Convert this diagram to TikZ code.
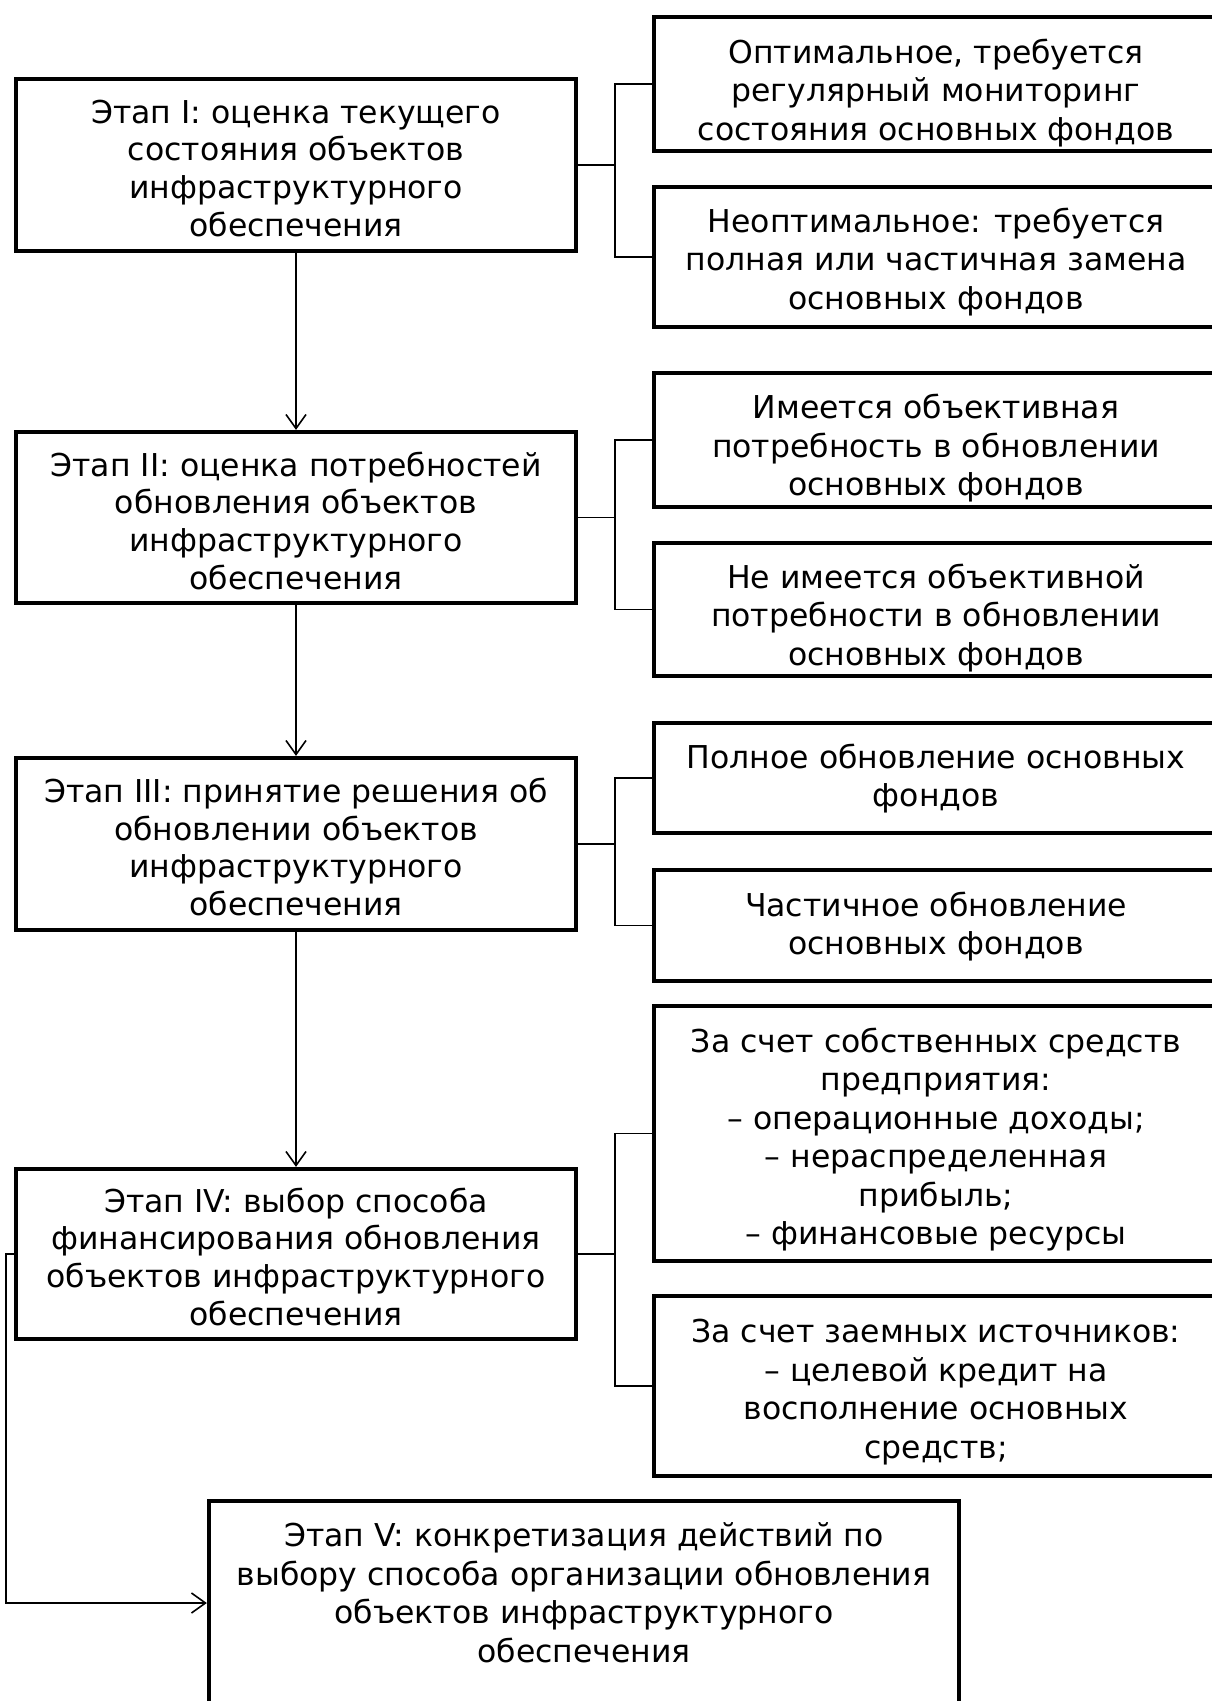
\documentclass[tikz,border=0pt]{standalone}
\usepackage{fontspec}
\setmainfont{DejaVu Sans}
\usetikzlibrary{arrows.meta}
\begin{document}
\begin{tikzpicture}[x=1pt,y=-1pt,
  box/.style={draw, line width=4.3pt, inner sep=0pt},
  lbox/.style={box, minimum width=560pt},
  rbox/.style={box, minimum width=564pt},
  txt/.style={align=center, font=\fontsize{31.5}{38.5}\selectfont, inner sep=0pt, text height=#1, text depth=0pt},
  ltxt/.style={align=center, font=\fontsize{31.5}{37.6}\selectfont, inner sep=0pt, text height=130pt, text depth=0pt},
  link/.style={line width=1.6pt},
  arr/.style={line width=1.6pt, -{Straight Barb[length=14pt,width=20pt]}}]
\useasboundingbox (0,0) rectangle (1211,1701);
% text heights: (lines-1)*baselineskip + 17.2
\def\hII{55.7pt}\def\hIII{94.2pt}\def\hIV{132.7pt}\def\hVI{209.7pt}

% left column boxes
\node[lbox, minimum height=172pt] (B1) at (296,165) {};
\node[lbox, minimum height=171pt] (B2) at (296,517.5) {};
\node[lbox, minimum height=172pt] (B3) at (296,844) {};
\node[lbox, minimum height=170pt] (B4) at (296,1254) {};
\node[box, minimum width=750pt, minimum height=204pt] (B5) at (584,1603) {};

% right column boxes
\node[rbox, minimum height=134pt] (R1) at (936,84) {};
\node[rbox, minimum height=140pt] (R2) at (936,257) {};
\node[rbox, minimum height=134pt] (R3) at (936,440) {};
\node[rbox, minimum height=133pt] (R4) at (936,609.5) {};
\node[rbox, minimum height=110pt] (R5) at (936,778) {};
\node[rbox, minimum height=111pt] (R6) at (936,925.5) {};
\node[rbox, minimum height=255pt] (R7) at (936,1133.5) {};
\node[rbox, minimum height=180pt] (R8) at (936,1386) {};

% texts of left boxes
\node[ltxt] (tB1) at (296,171) {Этап I: оценка текущего\\состояния объектов\\инфраструктурного\\обеспечения};
\node[ltxt] (tB2) at (296,524) {Этап II: оценка потребностей\\обновления объектов\\инфраструктурного\\обеспечения};
\node[ltxt] (tB3) at (296,850.5) {Этап III: принятие решения об\\обновлении объектов\\инфраструктурного\\обеспечения};
\node[ltxt] (tB4) at (296,1260) {Этап IV: выбор способа\\финансирования обновления\\объектов инфраструктурного\\обеспечения};
\node[txt=\hIV] (tB5) at (584,1596) {Этап V: конкретизация действий по\\выбору способа организации обновления\\объектов инфраструктурного\\обеспечения};

% texts of right boxes (clipped to their boxes)
\begin{scope}\clip (R1.north west) rectangle (R1.south east);
\node[txt=\hIII] (tR1) at (936,93) {Оптимальное, требуется\\регулярный мониторинг\\состояния основных фондов};
\end{scope}
\begin{scope}\clip (R2.north west) rectangle (R2.south east);
\node[txt=\hIII] (tR2) at (936,262) {Неоптимальное: требуется\\полная или частичная замена\\основных фондов};
\end{scope}
\begin{scope}\clip (R3.north west) rectangle (R3.south east);
\node[txt=\hIII] (tR3) at (936,448.5) {Имеется объективная\\потребность в обновлении\\основных фондов};
\end{scope}
\begin{scope}\clip (R4.north west) rectangle (R4.south east);
\node[txt=\hIII] (tR4) at (936,618) {Не имеется объективной\\потребности в обновлении\\основных фондов};
\end{scope}
\begin{scope}\clip (R5.north west) rectangle (R5.south east);
\node[txt=\hII] (tR5) at (936,779) {Полное обновление основных\\фондов};
\end{scope}
\begin{scope}\clip (R6.north west) rectangle (R6.south east);
\node[txt=\hII] (tR6) at (936,927) {Частичное обновление\\основных фондов};
\end{scope}
\begin{scope}\clip (R7.north west) rectangle (R7.south east);
\node[txt=\hVI] (tR7) at (936,1140) {За счет собственных средств\\предприятия:\\– операционные доходы;\\– нераспределенная\\прибыль;\\– финансовые ресурсы};
\end{scope}
\begin{scope}\clip (R8.north west) rectangle (R8.south east);
\node[txt=\hIV] (tR8) at (936,1392) {За счет заемных источников:\\– целевой кредит на\\восполнение основных\\средств;};
\end{scope}

% bracket junctions
\coordinate (j1) at (615,165);
\coordinate (j2) at (615,517.5);
\coordinate (j3) at (615,844);
\coordinate (j4) at (615,1254);
\coordinate (j5) at (6,1254);
\coordinate (j6) at (6,1603);

\draw[link] (B1.east) -- (j1);
\draw[link] (R1.west) -| (j1);
\draw[link] (R2.west) -| (j1);
\draw[link] (B2.east) -- (j2);
\draw[link] (R3.west) -| (j2);
\draw[link] (R4.west) -| (j2);
\draw[link] (B3.east) -- (j3);
\draw[link] (R5.west) -| (j3);
\draw[link] (R6.west) -| (j3);
\draw[link] (B4.east) -- (j4);
\draw[link] (R7.west) -| (j4);
\draw[link] (R8.west) -| (j4);

% main flow
\draw[arr] (B1.south) -- (B2.north);
\draw[arr] (B2.south) -- (B3.north);
\draw[arr] (B3.south) -- (B4.north);
\draw[arr] (B4.west) -- (j5) -- (j6) -- (B5.west);
\end{tikzpicture}
\end{document}
